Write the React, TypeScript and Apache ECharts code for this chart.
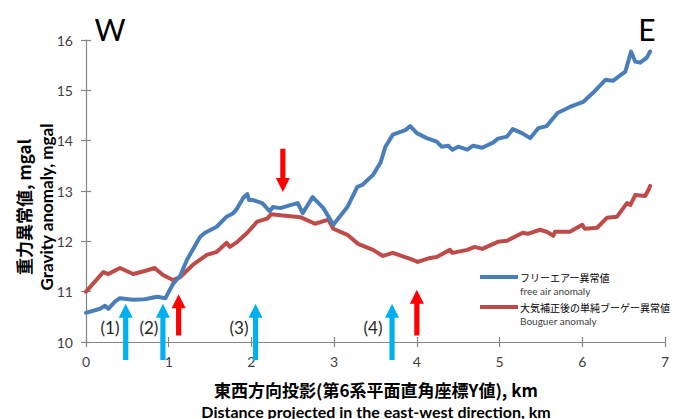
import React, { useEffect, useRef } from "react";
import * as echarts from "echarts";

// ---- data ----
const freeAirName = "フリーエアー異常値";
const freeAirEnglish = "free air anomaly";
const bouguerName = "大気補正後の単純ブーゲー異常値";
const bouguerEnglish = "Bouguer anomaly";

const freeAirKm = [
  0.0, 0.17, 0.23, 0.27, 0.35, 0.41, 0.57, 0.71, 0.86, 0.96, 1.05, 1.14, 1.22, 1.38, 1.44, 1.58,
  1.7, 1.78, 1.83, 1.9, 1.95, 1.97, 2.02, 2.13, 2.22, 2.26, 2.35, 2.47, 2.56, 2.62, 2.74, 2.87,
  2.99, 3.16, 3.28, 3.34, 3.47, 3.56, 3.62, 3.71, 3.86, 3.92, 4.0, 4.12, 4.24, 4.3, 4.38, 4.43,
  4.5, 4.61, 4.68, 4.79, 4.92, 4.98, 5.09, 5.16, 5.27, 5.37, 5.47, 5.57, 5.63, 5.7, 5.85, 6.01,
  6.13, 6.28, 6.37, 6.52, 6.59, 6.64, 6.7, 6.78, 6.82,
];
const freeAirMgal = [
  10.58, 10.66, 10.72, 10.66, 10.8, 10.87, 10.84, 10.85, 10.9, 10.87, 11.15, 11.32, 11.63, 12.09, 12.17, 12.29,
  12.49, 12.56, 12.66, 12.86, 12.94, 12.82, 12.82, 12.76, 12.6, 12.68, 12.66, 12.72, 12.76, 12.56, 12.88, 12.66,
  12.33, 12.68, 13.08, 13.12, 13.32, 13.56, 13.88, 14.12, 14.21, 14.29, 14.15, 14.05, 13.98, 13.88, 13.9, 13.82,
  13.88, 13.82, 13.9, 13.86, 13.96, 14.04, 14.08, 14.23, 14.15, 14.05, 14.25, 14.29, 14.41, 14.55, 14.67, 14.77,
  14.95, 15.21, 15.19, 15.37, 15.77, 15.57, 15.55, 15.65, 15.77,
];

const bouguerKm = [
  0.0, 0.21, 0.27, 0.41, 0.57, 0.71, 0.83, 0.93, 1.05, 1.14, 1.29, 1.46, 1.58, 1.7, 1.74, 1.83,
  1.95, 2.07, 2.19, 2.24, 2.35, 2.59, 2.77, 2.93, 2.99, 3.16, 3.29, 3.47, 3.59, 3.71, 3.92, 4.01,
  4.16, 4.24, 4.4, 4.43, 4.61, 4.7, 4.79, 4.98, 5.09, 5.28, 5.34, 5.49, 5.57, 5.65, 5.67, 5.85,
  6.0, 6.03, 6.18, 6.3, 6.42, 6.54, 6.58, 6.64, 6.76, 6.8, 6.82,
];
const bouguerMgal = [
  11.0, 11.39, 11.35, 11.47, 11.35, 11.41, 11.47, 11.33, 11.23, 11.29, 11.53, 11.73, 11.79, 11.97, 11.89, 11.99,
  12.17, 12.39, 12.45, 12.54, 12.52, 12.48, 12.35, 12.43, 12.25, 12.13, 11.95, 11.83, 11.71, 11.77, 11.65, 11.59,
  11.67, 11.69, 11.83, 11.77, 11.83, 11.89, 11.85, 11.99, 12.01, 12.17, 12.15, 12.23, 12.19, 12.11, 12.19, 12.19,
  12.33, 12.25, 12.27, 12.47, 12.49, 12.76, 12.72, 12.92, 12.9, 13.02, 13.1,
];

// arrows: position (km), tail value, tip value (mgal)
const blueArrowKm = [0.48, 0.93, 2.05, 3.7];
const blueArrowTail = [9.64, 9.64, 9.64, 9.64];
const blueArrowTip = [10.76, 10.76, 10.76, 10.76];

const redArrowKm = [1.12, 2.38, 4.0];
const redArrowTail = [10.13, 13.84, 10.13];
const redArrowTip = [10.95, 12.98, 11.04];

const siteLabels = ["(1)", "(2)", "(3)", "(4)"];
const siteLabelKm = [0.29, 0.76, 1.85, 3.47];
const siteLabelMgal = [10.28, 10.28, 10.28, 10.28];

const xTicks = { min: 0, max: 7, interval: 1 };
const yTicks = { min: 10, max: 16, interval: 1 };

const LATIN = "Lato, 'Liberation Sans', 'Noto Sans CJK JP', sans-serif";
const CJK = "'Noto Sans CJK JP', Lato, sans-serif";

function arrowRender(params: any, api: any) {
  const x = api.value(0);
  const a = api.coord([x, api.value(1)]);
  const b = api.coord([x, api.value(2)]);
  const dir = b[1] < a[1] ? 1 : -1; // 1 = pointing up
  const hl = 14;
  const hw = 7;
  const sw = 2.6;
  const baseY = b[1] + dir * hl;
  const cx = a[0];
  return {
    type: "polygon",
    shape: {
      points: [
        [cx - sw, a[1]],
        [cx - sw, baseY],
        [cx - hw, baseY],
        [cx, b[1]],
        [cx + hw, baseY],
        [cx + sw, baseY],
        [cx + sw, a[1]],
      ],
    },
    style: { fill: api.visual("color") },
  };
}

export default function App() {
  const ref = useRef<HTMLDivElement>(null);
  useEffect(() => {
    if (!ref.current) return;
    const chart = echarts.init(ref.current, null, { renderer: "svg" });
    const english: Record<string, string> = {
      [freeAirName]: freeAirEnglish,
      [bouguerName]: bouguerEnglish,
    };
    const axisBase = (extra: any) => ({
      type: "value",
      splitLine: { show: false },
      axisLine: { show: true, onZero: false, lineStyle: { color: "#868686", width: 1.2 } },
      axisTick: { show: true, length: 5, lineStyle: { color: "#868686", width: 1.2 } },
      ...extra,
    });
    chart.setOption({
      animation: false,
      backgroundColor: "#ffffff",
      grid: { left: 86, right: 12, top: 40, bottom: 77, containLabel: false },
      xAxis: [
        axisBase({
          ...xTicks,
          position: "bottom",
          axisLabel: { margin: 12, fontSize: 14, color: "#404040", fontFamily: LATIN },
        }),
        axisBase({
          ...xTicks,
          position: "bottom",
          axisLine: { show: false },
          axisLabel: { show: false },
          axisTick: { show: true, inside: true, length: 5, lineStyle: { color: "#868686", width: 1.2 } },
        }),
      ],
      yAxis: [
        axisBase({
          ...yTicks,
          position: "left",
          axisLabel: { margin: 13, fontSize: 14, color: "#404040", fontFamily: LATIN },
        }),
        axisBase({
          ...yTicks,
          position: "left",
          axisLine: { show: false },
          axisLabel: { show: false },
          axisTick: { show: true, inside: true, length: 5, lineStyle: { color: "#868686", width: 1.2 } },
        }),
      ],
      legend: {
        orient: "vertical",
        left: 475,
        top: 253,
        icon: "rect",
        itemWidth: 38,
        itemHeight: 4,
        itemGap: -8,
        selectedMode: false,
        data: [freeAirName, bouguerName],
        formatter: (name: string) => `{e| }\n{j|${name}}\n{en|${english[name]}}`,
        textStyle: {
          padding: [0, 0, 0, -3],
          rich: {
            e: { fontSize: 10, lineHeight: 14 },
            j: { fontSize: 10, lineHeight: 14, color: "#000000", fontFamily: CJK },
            en: { fontSize: 10, lineHeight: 14, color: "#404040", fontFamily: LATIN },
          },
        },
      },
      series: [
        {
          name: freeAirName,
          type: "line",
          symbol: "none",
          data: freeAirKm.map((x, i) => [x, freeAirMgal[i]]),
          lineStyle: { color: "#4A7EBB", width: 4, join: "round", cap: "round" },
          itemStyle: { color: "#4A7EBB" },
          z: 3,
        },
        {
          name: bouguerName,
          type: "line",
          symbol: "none",
          data: bouguerKm.map((x, i) => [x, bouguerMgal[i]]),
          lineStyle: { color: "#BE4B48", width: 4, join: "round", cap: "round" },
          itemStyle: { color: "#BE4B48" },
          z: 2,
        },
        {
          name: "sites",
          type: "custom",
          clip: false,
          z: 5,
          itemStyle: { color: "#00B0F0" },
          data: blueArrowKm.map((x, i) => [x, blueArrowTail[i], blueArrowTip[i]]),
          renderItem: arrowRender,
        },
        {
          name: "faults",
          type: "custom",
          clip: false,
          z: 5,
          itemStyle: { color: "#FF0000" },
          data: redArrowKm.map((x, i) => [x, redArrowTail[i], redArrowTip[i]]),
          renderItem: arrowRender,
        },
        {
          name: "labels",
          type: "custom",
          clip: false,
          z: 4,
          data: siteLabelKm.map((x, i) => [x, siteLabelMgal[i], i]),
          renderItem: (params: any, api: any) => {
            const p = api.coord([api.value(0), api.value(1)]);
            return {
              type: "text",
              x: p[0],
              y: p[1],
              style: {
                text: siteLabels[api.value(2)],
                fontSize: 17,
                fontFamily: LATIN,
                fill: "#262626",
                align: "center",
                verticalAlign: "middle",
              },
            };
          },
        },
      ],
      graphic: [
        {
          type: "text",
          x: 110,
          y: 29,
          style: { text: "W", fontSize: 30, fontFamily: LATIN, fill: "#000", align: "center", verticalAlign: "middle" },
        },
        {
          type: "text",
          x: 647,
          y: 29,
          style: { text: "E", fontSize: 30, fontFamily: LATIN, fill: "#000", align: "center", verticalAlign: "middle" },
        },
        {
          type: "text",
          x: 23,
          y: 207,
          rotation: Math.PI / 2,
          style: {
            text: "重力異常値, mgal",
            fontSize: 17,
            fontWeight: "bold",
            fontFamily: CJK,
            fill: "#000",
            align: "center",
            verticalAlign: "middle",
          },
        },
        {
          type: "text",
          x: 46,
          y: 207,
          rotation: Math.PI / 2,
          style: {
            text: "Gravity anomaly, mgal",
            fontSize: 17,
            fontWeight: "bold",
            fontFamily: LATIN,
            fill: "#000",
            align: "center",
            verticalAlign: "middle",
          },
        },
        {
          type: "text",
          x: 376,
          y: 389,
          style: {
            text: "東西方向投影(第6系平面直角座標Y値), km",
            fontSize: 17,
            fontWeight: "bold",
            fontFamily: CJK,
            fill: "#000",
            align: "center",
            verticalAlign: "middle",
          },
        },
        {
          type: "text",
          x: 376,
          y: 411,
          style: {
            text: "Distance projected in the east-west direction, km",
            fontSize: 16,
            fontWeight: "bold",
            fontFamily: LATIN,
            fill: "#000",
            align: "center",
            verticalAlign: "middle",
          },
        },
      ],
    });
    return () => chart.dispose();
  }, []);
  return (
    <div
      ref={ref}
      style={{ position: "absolute", left: 0, top: 0, width: 677, height: 419, background: "#fff" }}
    />
  );
}
